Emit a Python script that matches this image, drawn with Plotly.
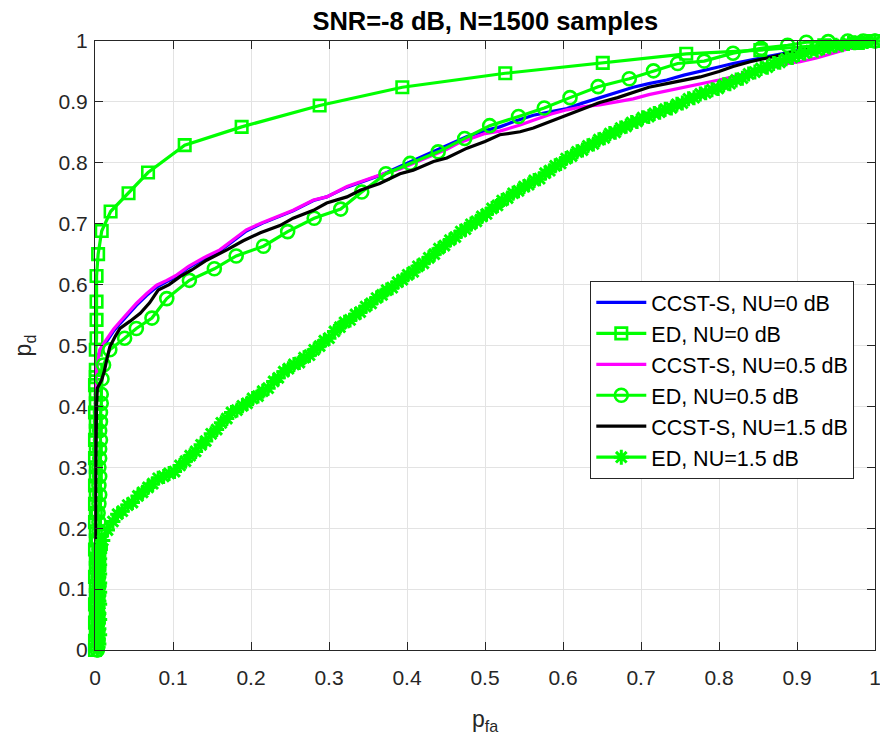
import plotly.graph_objects as go

# ---------------- data ----------------
tick_vals = [0, 0.1, 0.2, 0.3, 0.4, 0.5, 0.6, 0.7, 0.8, 0.9, 1.0]
tick_text = ["0", "0.1", "0.2", "0.3", "0.4", "0.5", "0.6", "0.7", "0.8", "0.9", "1"]

series_names = ["CCST-S, NU=0 dB", "ED, NU=0 dB", "CCST-S, NU=0.5 dB",
                "ED, NU=0.5 dB", "CCST-S, NU=1.5 dB", "ED, NU=1.5 dB"]

ccst0_x = [0.000, 0.000, 0.001, 0.003, 0.007, 0.012, 0.017, 0.024, 0.032, 0.042, 0.053, 0.066, 0.079, 0.092,
           0.105, 0.120, 0.139, 0.160, 0.177, 0.194, 0.215, 0.237, 0.254, 0.280, 0.297, 0.323, 0.340, 0.365,
           0.391, 0.412, 0.434, 0.455, 0.477, 0.498, 0.519, 0.540, 0.562, 0.585, 0.605, 0.625, 0.647, 0.670,
           0.690, 0.710, 0.733, 0.755, 0.776, 0.798, 0.818, 0.846, 0.870, 0.900, 0.930, 0.960, 1.000]
ccst0_y = [0.000, 0.440, 0.462, 0.480, 0.492, 0.501, 0.511, 0.524, 0.536, 0.550, 0.566, 0.582, 0.596, 0.605,
           0.614, 0.628, 0.642, 0.655, 0.671, 0.688, 0.701, 0.713, 0.721, 0.738, 0.744, 0.760, 0.768, 0.779,
           0.794, 0.806, 0.818, 0.830, 0.843, 0.852, 0.859, 0.869, 0.878, 0.884, 0.889, 0.898, 0.907, 0.916,
           0.924, 0.930, 0.936, 0.944, 0.951, 0.957, 0.963, 0.970, 0.977, 0.984, 0.990, 0.995, 1.000]

ed0_x = [0.000, 0.000, 0.001, 0.000, 0.001, 0.000, 0.001, 0.001, 0.000, 0.001, 0.001, 0.000, 0.001, 0.001,
         0.000, 0.001, 0.000, 0.001, 0.000, 0.001, 0.001, 0.000, 0.001, 0.000, 0.001, 0.001, 0.000, 0.001,
         0.001, 0.000, 0.001,
         0.001, 0.001, 0.002, 0.002, 0.002, 0.002, 0.004, 0.0086, 0.020, 0.043, 0.068, 0.115, 0.188,
         0.288, 0.394, 0.526, 0.651, 0.758, 0.853, 0.935, 0.978, 1.000]
ed0_y = [0.000, 0.015, 0.030, 0.045, 0.060, 0.075, 0.090, 0.105, 0.120, 0.135, 0.150, 0.165, 0.180, 0.195,
         0.210, 0.225, 0.240, 0.255, 0.270, 0.285, 0.300, 0.315, 0.330, 0.345, 0.360, 0.375, 0.390, 0.405,
         0.420, 0.435, 0.448,
         0.460, 0.493, 0.512, 0.542, 0.572, 0.614, 0.650, 0.688, 0.720, 0.750, 0.784, 0.829, 0.859,
         0.894, 0.924, 0.947, 0.964, 0.979, 0.985, 0.993, 0.997, 1.000]

ccst05_x = [0.000, 0.000, 0.001, 0.002, 0.006, 0.011, 0.017, 0.024, 0.032, 0.042, 0.053, 0.066, 0.079, 0.092,
            0.105, 0.120, 0.139, 0.160, 0.177, 0.194, 0.215, 0.237, 0.254, 0.280, 0.297, 0.323, 0.340, 0.365,
            0.391, 0.408, 0.434, 0.451, 0.467, 0.500, 0.519, 0.545, 0.562, 0.585, 0.605, 0.625, 0.647, 0.670,
            0.690, 0.710, 0.733, 0.760, 0.780, 0.800, 0.820, 0.840, 0.860, 0.882, 0.904, 0.925, 0.946, 0.970,
            0.985, 1.000]
ccst05_y = [0.000, 0.394, 0.440, 0.460, 0.493, 0.503, 0.514, 0.527, 0.539, 0.553, 0.569, 0.585, 0.599, 0.607,
            0.616, 0.630, 0.644, 0.657, 0.673, 0.690, 0.702, 0.714, 0.722, 0.739, 0.744, 0.761, 0.769, 0.780,
            0.790, 0.799, 0.813, 0.822, 0.833, 0.848, 0.852, 0.862, 0.870, 0.880, 0.887, 0.892, 0.895, 0.900,
            0.905, 0.912, 0.918, 0.925, 0.930, 0.936, 0.942, 0.948, 0.955, 0.962, 0.966, 0.972, 0.980, 0.988,
            0.995, 1.000]

ed05_x = [0.003, 0.004, 0.003, 0.004, 0.004, 0.003, 0.004, 0.005, 0.004, 0.005, 0.004, 0.005, 0.004, 0.005,
          0.005, 0.004, 0.005, 0.006, 0.005, 0.006, 0.005, 0.006, 0.006, 0.007, 0.006, 0.007, 0.007, 0.008,
          0.008, 0.009,
          0.011, 0.019, 0.038, 0.053, 0.073, 0.092, 0.121, 0.153, 0.181, 0.216, 0.247, 0.281,
          0.315, 0.342, 0.373, 0.404, 0.440, 0.474, 0.506, 0.543, 0.576, 0.609, 0.645, 0.685, 0.716, 0.747,
          0.781, 0.818, 0.854, 0.888, 0.912, 0.940, 0.965, 0.985, 1.000]
ed05_y = [0.000, 0.015, 0.030, 0.045, 0.060, 0.075, 0.090, 0.105, 0.120, 0.135, 0.150, 0.165, 0.180, 0.195,
          0.210, 0.225, 0.240, 0.255, 0.270, 0.285, 0.300, 0.315, 0.330, 0.345, 0.360, 0.375, 0.390, 0.405,
          0.420, 0.445,
          0.468, 0.493, 0.512, 0.528, 0.545, 0.577, 0.607, 0.626, 0.647, 0.663, 0.687, 0.709,
          0.724, 0.752, 0.782, 0.799, 0.818, 0.840, 0.861, 0.876, 0.890, 0.907, 0.925, 0.938, 0.951, 0.963,
          0.967, 0.980, 0.988, 0.993, 0.998, 0.999, 1.000, 1.000, 1.000]

ccst15_x = [0.000, 0.000, 0.001, 0.002, 0.003, 0.0085, 0.012, 0.015, 0.019, 0.026, 0.032, 0.045, 0.058, 0.070,
            0.081, 0.095, 0.109, 0.124, 0.143, 0.169, 0.190, 0.212, 0.237, 0.254, 0.280, 0.297, 0.323, 0.340,
            0.365, 0.391, 0.408, 0.434, 0.451, 0.477, 0.500, 0.519, 0.545, 0.562, 0.585, 0.605, 0.625, 0.647,
            0.670, 0.690, 0.710, 0.733, 0.755, 0.776, 0.800, 0.818, 0.840, 0.860, 0.880, 0.900, 0.920, 0.940,
            0.960, 0.980, 1.000]
ccst15_y = [0.000, 0.180, 0.300, 0.400, 0.430, 0.443, 0.458, 0.476, 0.498, 0.515, 0.528, 0.540, 0.553, 0.570,
            0.591, 0.600, 0.613, 0.624, 0.640, 0.657, 0.672, 0.685, 0.697, 0.709, 0.722, 0.734, 0.744, 0.755,
            0.766, 0.782, 0.788, 0.802, 0.808, 0.824, 0.835, 0.846, 0.851, 0.857, 0.868, 0.878, 0.888, 0.899,
            0.907, 0.916, 0.924, 0.930, 0.936, 0.941, 0.950, 0.958, 0.966, 0.972, 0.978, 0.983, 0.988, 0.992,
            0.995, 0.998, 1.000]

ed15_x = [0.003, 0.004, 0.005, 0.003, 0.004, 0.006, 0.004, 0.005, 0.003, 0.004, 0.006, 0.004, 0.005, 0.003,
          0.004, 0.006, 0.005, 0.004, 0.005, 0.006, 0.004, 0.005, 0.006, 0.004, 0.005, 0.006, 0.005, 0.004,
          0.006, 0.005, 0.006, 0.005, 0.006, 0.007, 0.007,
          0.010, 0.016, 0.023, 0.029, 0.035, 0.042, 0.048, 0.055, 0.061, 0.068, 0.074, 0.081, 0.088, 0.095,
          0.102, 0.109, 0.116, 0.122, 0.129, 0.136, 0.142, 0.149, 0.156, 0.162, 0.169, 0.175, 0.182, 0.189,
          0.195, 0.202, 0.209, 0.215, 0.222, 0.229, 0.235, 0.242, 0.248, 0.255, 0.262, 0.268, 0.275, 0.281,
          0.288, 0.294, 0.300, 0.307, 0.314, 0.320, 0.327, 0.334, 0.340, 0.347, 0.354, 0.361, 0.368, 0.374,
          0.381, 0.388, 0.394, 0.401, 0.408, 0.414, 0.421, 0.428, 0.435, 0.441, 0.448, 0.455, 0.462, 0.469,
          0.475, 0.482, 0.489, 0.496, 0.502, 0.509, 0.516, 0.522, 0.529, 0.536, 0.543, 0.550, 0.556, 0.563,
          0.570, 0.577, 0.583, 0.590, 0.597, 0.604, 0.611, 0.618, 0.625, 0.632, 0.639, 0.646, 0.653, 0.660,
          0.667, 0.674, 0.681, 0.688, 0.695, 0.702, 0.710, 0.717, 0.724, 0.731, 0.739, 0.746, 0.753, 0.761,
          0.768, 0.776, 0.783, 0.791, 0.799, 0.806, 0.814, 0.822, 0.830, 0.838, 0.846, 0.854, 0.862, 0.870,
          0.878, 0.886, 0.894, 0.902, 0.910, 0.918, 0.926, 0.934, 0.942, 0.950, 0.958, 0.966, 0.974, 0.982,
          0.990, 1.000]
ed15_y = [0.000, 0.005, 0.010, 0.015, 0.020, 0.025, 0.030, 0.035, 0.040, 0.045, 0.050, 0.055, 0.060, 0.065,
          0.070, 0.075, 0.080, 0.085, 0.090, 0.095, 0.100, 0.105, 0.110, 0.115, 0.120, 0.125, 0.130, 0.135,
          0.140, 0.145, 0.150, 0.155, 0.160, 0.165, 0.170,
          0.180, 0.197, 0.211, 0.223, 0.228, 0.238, 0.242, 0.253, 0.259, 0.267, 0.273, 0.282, 0.285, 0.290,
          0.293, 0.303, 0.310, 0.319, 0.326, 0.337, 0.343, 0.355, 0.362, 0.373, 0.380, 0.390, 0.394, 0.401,
          0.405, 0.413, 0.417, 0.425, 0.430, 0.441, 0.447, 0.457, 0.462, 0.469, 0.472, 0.480, 0.484, 0.493,
          0.499, 0.508, 0.512, 0.523, 0.530, 0.538, 0.542, 0.551, 0.555, 0.564, 0.569, 0.578, 0.583, 0.591,
          0.595, 0.604, 0.608, 0.616, 0.621, 0.630, 0.635, 0.644, 0.650, 0.659, 0.664, 0.673, 0.678, 0.687,
          0.691, 0.699, 0.704, 0.712, 0.716, 0.725, 0.730, 0.738, 0.742, 0.750, 0.754, 0.761, 0.764, 0.771,
          0.774, 0.783, 0.787, 0.795, 0.799, 0.807, 0.811, 0.818, 0.821, 0.828, 0.831, 0.838, 0.841, 0.848,
          0.850, 0.857, 0.860, 0.866, 0.868, 0.874, 0.876, 0.881, 0.883, 0.888, 0.890, 0.896, 0.898, 0.905,
          0.907, 0.913, 0.915, 0.920, 0.922, 0.928, 0.930, 0.936, 0.939, 0.946, 0.949, 0.955, 0.957, 0.963,
          0.965, 0.971, 0.973, 0.978, 0.980, 0.984, 0.985, 0.989, 0.990, 0.993, 0.994, 0.996, 0.997, 0.998,
          0.999, 1.000]

# ---------------- styling ----------------
FONT = "Liberation Sans, Arial, Helvetica, sans-serif"
GREEN = "#00ff00"
AX = "#262626"
LW = 3.2

fig = go.Figure()

def line_trace(x, y, name, color):
    return go.Scatter(x=x, y=y, mode="lines", name=name,
                      line=dict(color=color, width=LW), cliponaxis=False)

def marker_trace(x, y, name, symbol, size, mlw):
    return go.Scatter(x=x, y=y, mode="lines+markers", name=name,
                      line=dict(color=GREEN, width=LW),
                      marker=dict(symbol=symbol, size=size, color=GREEN,
                                  line=dict(color=GREEN, width=mlw)),
                      cliponaxis=False)

fig.add_trace(line_trace(ccst0_x, ccst0_y, series_names[0], "#0000ff"))
fig.add_trace(marker_trace(ed0_x, ed0_y, series_names[1], "square-open", 11.5, 2.6))
fig.add_trace(line_trace(ccst05_x, ccst05_y, series_names[2], "#ff00ff"))
fig.add_trace(marker_trace(ed05_x, ed05_y, series_names[3], "circle-open", 13, 2.6))
fig.add_trace(line_trace(ccst15_x, ccst15_y, series_names[4], "#000000"))
fig.add_trace(marker_trace(ed15_x, ed15_y, series_names[5], "asterisk-open", 12.5, 3.0))

axis_common = dict(
    range=[0, 1], tickvals=tick_vals, ticktext=tick_text,
    showgrid=True, gridcolor="#e3e3e3", gridwidth=1,
    zeroline=False, showline=True, linecolor=AX, linewidth=1,
    mirror="ticks", ticks="inside", ticklen=8, tickcolor=AX, tickwidth=1,
    tickfont=dict(family=FONT, size=21, color=AX),
    ticklabeloverflow="allow", automargin=False,
)

fig.update_xaxes(**axis_common, ticklabelstandoff=9,
                 title=dict(text="p<sub>fa</sub>", font=dict(family=FONT, size=23, color=AX), standoff=22))
fig.update_yaxes(**axis_common, ticklabelstandoff=2,
                 title=dict(text="p<sub>d</sub>", font=dict(family=FONT, size=23, color=AX), standoff=20))

fig.update_layout(
    width=880, height=741,
    margin=dict(l=95, r=5, t=41, b=91, autoexpand=False),
    paper_bgcolor="white", plot_bgcolor="white",
    title=dict(text="<b>SNR=-8 dB, N=1500 samples</b>", x=0.5515, xanchor="center",
               y=1 - 21 / 741, yanchor="middle", yref="container",
               font=dict(family=FONT, size=25.5, color="black")),
    showlegend=True,
    legend=dict(x=0.635, y=0.606, xanchor="left", yanchor="top",
                bgcolor="white", bordercolor=AX, borderwidth=1,
                font=dict(family=FONT, size=21.5, color="black"),
                itemwidth=50, tracegroupgap=0),
)

fig.write_html("out.html")
